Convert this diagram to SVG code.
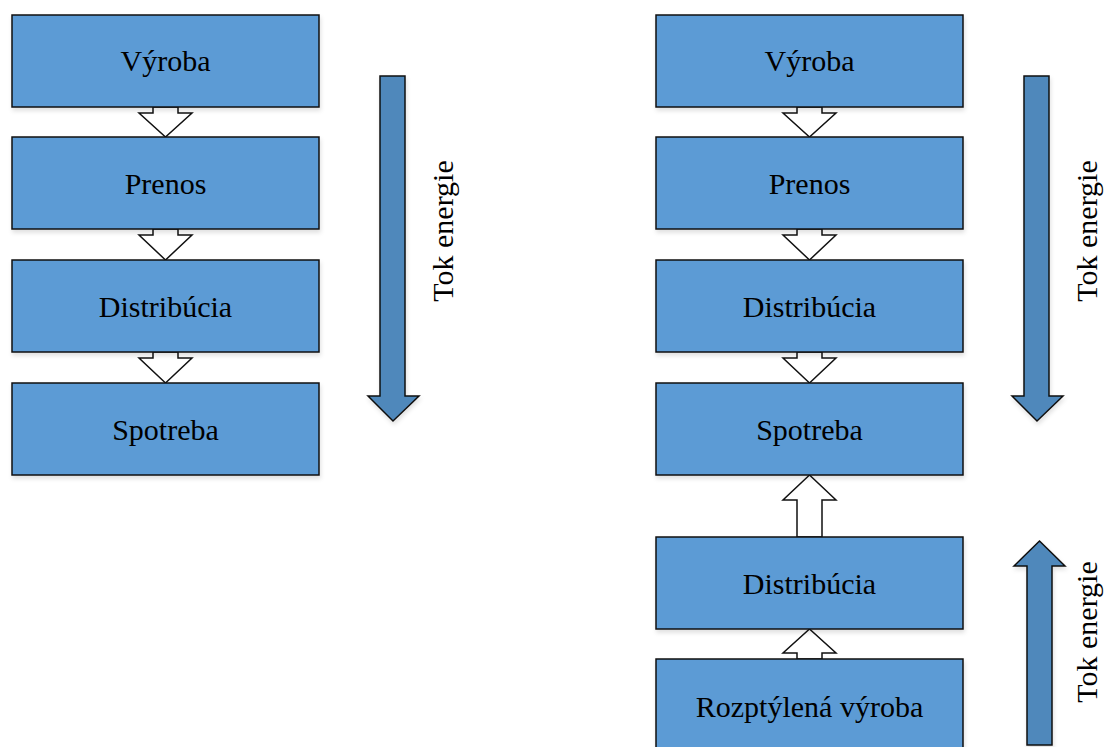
<svg xmlns="http://www.w3.org/2000/svg" width="1106" height="747" viewBox="0 0 1106 747">
<defs>
<filter id="sh" x="-5%" y="-5%" width="115%" height="120%">
<feDropShadow dx="1" dy="3" stdDeviation="2" flood-color="#000" flood-opacity="0.12"/>
</filter>
</defs>
<style>
.box{fill:#5b9bd5;stroke:#111;stroke-width:1.5;filter:url(#sh)}
.lbl{font-family:"Liberation Serif","Times New Roman",serif;font-size:30px;fill:#000;text-anchor:middle}
.hollow{fill:#fff;stroke:#111;stroke-width:1.5;stroke-linejoin:miter}
.big{fill:#4f88bb;stroke:#111;stroke-width:1.5;filter:url(#sh)}
</style>
<rect width="1106" height="747" fill="#fff"/>
<g id="connectors">
<polygon class="hollow" points="153,107 178,107 178,113 192,113 165.5,137 139,113 153,113"/>
<polygon class="hollow" points="153,229 178,229 178,235 192,235 165.5,260 139,235 153,235"/>
<polygon class="hollow" points="153,352 178,352 178,358 192,358 165.5,383 139,358 153,358"/>
<polygon class="hollow" points="797,107 822,107 822,113 836,113 809.5,137 783,113 797,113"/>
<polygon class="hollow" points="797,229 822,229 822,235 836,235 809.5,260 783,235 797,235"/>
<polygon class="hollow" points="797,352 822,352 822,358 836,358 809.5,383 783,358 797,358"/>
<polygon class="hollow" points="797,537 822,537 822,500 836,500 809.5,475 783,500 797,500"/>
<polygon class="hollow" points="797,659 822,659 822,653 836,653 809.5,629 783,653 797,653"/>
</g>
<g id="n1"><rect class="box" x="12" y="15" width="307" height="92"/><text class="lbl" x="165.5" y="71">Výroba</text></g>
<g id="n2"><rect class="box" x="12" y="137" width="307" height="92"/><text class="lbl" x="165.5" y="194">Prenos</text></g>
<g id="n3"><rect class="box" x="12" y="260" width="307" height="92"/><text class="lbl" x="165.5" y="317">Distribúcia</text></g>
<g id="n4"><rect class="box" x="12" y="383" width="307" height="92"/><text class="lbl" x="165.5" y="440">Spotreba</text></g>
<g id="n5"><rect class="box" x="656" y="15" width="307" height="92"/><text class="lbl" x="809.5" y="71">Výroba</text></g>
<g id="n6"><rect class="box" x="656" y="137" width="307" height="92"/><text class="lbl" x="809.5" y="194">Prenos</text></g>
<g id="n7"><rect class="box" x="656" y="260" width="307" height="92"/><text class="lbl" x="809.5" y="317">Distribúcia</text></g>
<g id="n8"><rect class="box" x="656" y="383" width="307" height="92"/><text class="lbl" x="809.5" y="440">Spotreba</text></g>
<g id="n9"><rect class="box" x="656" y="537" width="307" height="92"/><text class="lbl" x="809.5" y="594">Distribúcia</text></g>
<g id="n10"><rect class="box" x="656" y="659" width="307" height="100"/><text class="lbl" x="809.5" y="717">Rozptýlená výroba</text></g>
<g id="flow1">
<polygon class="big" points="380,76 405,76 405,396 419,396 393,421 368,396 380,396"/>
<text class="lbl" transform="translate(453,231) rotate(-90)">Tok energie</text>
</g>
<g id="flow2">
<polygon class="big" points="1024,76 1049,76 1049,396 1063,396 1037,421 1012,396 1024,396"/>
<text class="lbl" transform="translate(1097,231) rotate(-90)">Tok energie</text>
</g>
<g id="flow3">
<polygon class="big" points="1027,745 1052,745 1052,566 1065,566 1039.5,541 1014,566 1027,566"/>
<text class="lbl" transform="translate(1097,632) rotate(-90)">Tok energie</text>
</g>
</svg>
